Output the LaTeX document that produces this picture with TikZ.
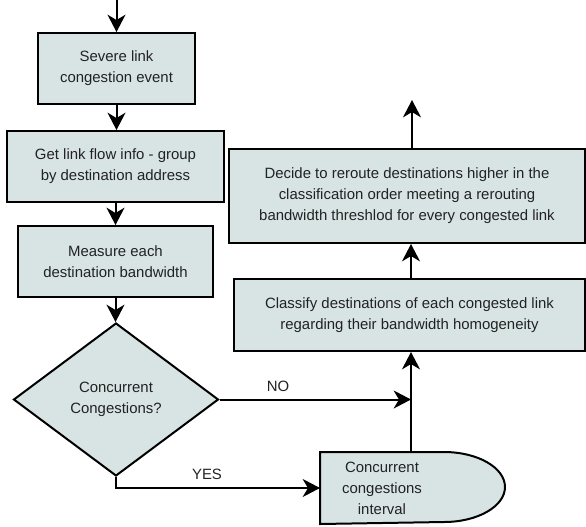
\documentclass[tikz,border=0pt]{standalone}
\usepackage{fontspec}
\setmainfont{Liberation Sans}
\usetikzlibrary{arrows.meta, positioning, shapes.geometric, backgrounds}
\definecolor{boxfill}{RGB}{216,228,228}
\definecolor{textgray}{RGB}{34,34,34}

\begin{document}
\begin{tikzpicture}[
    x=0.75pt, y=-0.75pt,
    block/.style={rectangle, draw=black, line width=1.5pt, fill=boxfill, align=center, inner sep=0pt, text=textgray, font=\fontsize{11.2}{15.8}\selectfont},
    choice/.style={diamond, draw=black, line width=1.5pt, fill=boxfill, align=center, inner sep=0pt, text=textgray, font=\fontsize{11.2}{15.8}\selectfont, minimum width=153.75pt, minimum height=114.75pt},
    tag/.style={text=textgray, font=\fontsize{11.2}{15.8}\selectfont},
    arrow/.style={-{Stealth[length=13pt, width=13.5pt, inset=4pt]}, line width=1.5pt}
]

\useasboundingbox (0,0) rectangle (586,526);

\coordinate (entry) at (116.5,0);
\coordinate (exit) at (412,100);
\coordinate (merge) at (411,400);


\node[block, minimum width=117.75pt, minimum height=53.25pt] (severe_block) at (116.5,68.5) {Severe link\\congestion event};
\node[block, minimum width=162.75pt, minimum height=53.25pt] (info_block) at (115.5,166.5) {Get link flow info - group\\by destination address};
\node[block, minimum width=146.25pt, minimum height=53.25pt] (measure_block) at (115.5,261.5) {Measure each\\destination bandwidth};
\node[choice] (choice_block) at (116,399.5) {Concurrent\\Congestions?};
\node[block, draw=none, fill=none, minimum width=91.5pt, minimum height=52.5pt] (interval_block) at (382,488) {Concurrent\\congestions\\interval};
\node[block, minimum width=263.25pt, minimum height=54pt] (classify_block) at (409.5,315) {Classify destinations of each congested link\\regarding their bandwidth homogeneity};
\node[block, minimum width=267pt, minimum height=70.5pt] (decide_block) at (407,196) {Decide to reroute destinations higher in the\\classification order meeting a rerouting\\bandwidth threshlod for every congested link};

\begin{scope}[on background layer]
\draw[line width=1.5pt, fill=boxfill] (interval_block.north west) -- (interval_block.north east) arc[start angle=90, end angle=-90, x radius=45.75pt, y radius=26.25pt] -- (interval_block.south west) -- cycle;
\end{scope}


\draw[arrow] (entry) -- (severe_block.north);
\draw[arrow] (severe_block.south) -- (severe_block.south |- info_block.north);
\draw[arrow] (info_block.south) -- (info_block.south |- measure_block.north);
\draw[arrow] (measure_block.south) -- (measure_block.south |- choice_block.north);


\draw[arrow] (choice_block.east) -- (choice_block.east -| merge);
\draw[arrow] (choice_block.south) |- (interval_block.west);
\node[tag] (no_label) at (278,386) {NO};
\node[tag] (yes_label) at (207,474) {YES};


\draw[arrow] (interval_block.north -| merge) -- (classify_block.south -| merge);
\draw[arrow] (classify_block.north -| merge) -- (decide_block.south -| merge);
\draw[arrow] (decide_block.north -| exit) -- (exit);

\end{tikzpicture}
\end{document}
